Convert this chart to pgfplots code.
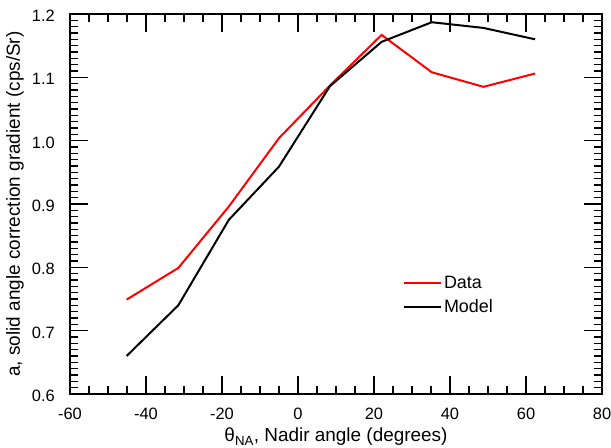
\documentclass[border=0pt]{standalone}
\usepackage{fontspec}
\setmainfont{Liberation Sans}
\usepackage{pgfplots}
\pgfplotsset{compat=1.18}
\begin{document}
\begin{tikzpicture}
\begin{axis}[
  scale only axis,
  width=532bp, height=380bp,
  xmin=-60, xmax=80, ymin=0.6, ymax=1.2,
  xtick={-60,-40,...,80},
  ytick={0.6,0.7,...,1.2},
  minor x tick num=3,
  minor y tick num=9,
  tick align=inside,
  major tick length=18bp,
  minor tick length=8bp,
  axis line style={line width=1.6bp},
  every tick/.style={line width=1.6bp, black},
  /pgf/number format/assume math mode=true,
  yticklabel style={/pgf/number format/fixed, /pgf/number format/fixed zerofill, /pgf/number format/precision=1},
  ticklabel style={font=\fontsize{16.5}{19}\selectfont, inner sep=0pt},
  xticklabel style={anchor=center, yshift=-20bp},
  yticklabel style={anchor=east, xshift=-15bp, yshift=-2bp},
  label style={font=\fontsize{19}{22}\selectfont},
  xlabel={θ\textsubscript{NA}, Nadir angle (degrees)},
  ylabel={a, solid angle correction gradient (cps/Sr)},
  xlabel style={at={(axis description cs:0.5,-0.113)}, anchor=center},
  ylabel style={at={(axis description cs:-0.1034,0.5)}, anchor=center},
  legend style={draw=none, fill=none, at={(0.62,0.32)}, anchor=north west,
    font=\fontsize{18}{21}\selectfont, row sep=5bp},
  legend cell align=left,
  legend image code/.code={\draw[#1] (0bp,0bp) -- (37bp,0bp);},
]
\addplot[red, line width=2bp] coordinates {
(-45.1,0.749) (-31.5,0.799) (-18.2,0.896) (-5,1.004) (8.4,1.087) (22,1.167) (35.2,1.108) (48.8,1.085) (62.4,1.106)
};
\addlegendentry{Data}
\addplot[black, line width=2bp] coordinates {
(-45.1,0.660) (-31.5,0.740) (-18.2,0.875) (-5,0.959) (8.4,1.086) (22,1.156) (35.2,1.187) (48.8,1.178) (62.4,1.160)
};
\addlegendentry{Model}
\end{axis}
\pgfresetboundingbox
\path ([xshift=-70bp,yshift=-54bp]current axis.south west) rectangle ([xshift=9bp,yshift=14bp]current axis.north east);
\end{tikzpicture}
\end{document}
